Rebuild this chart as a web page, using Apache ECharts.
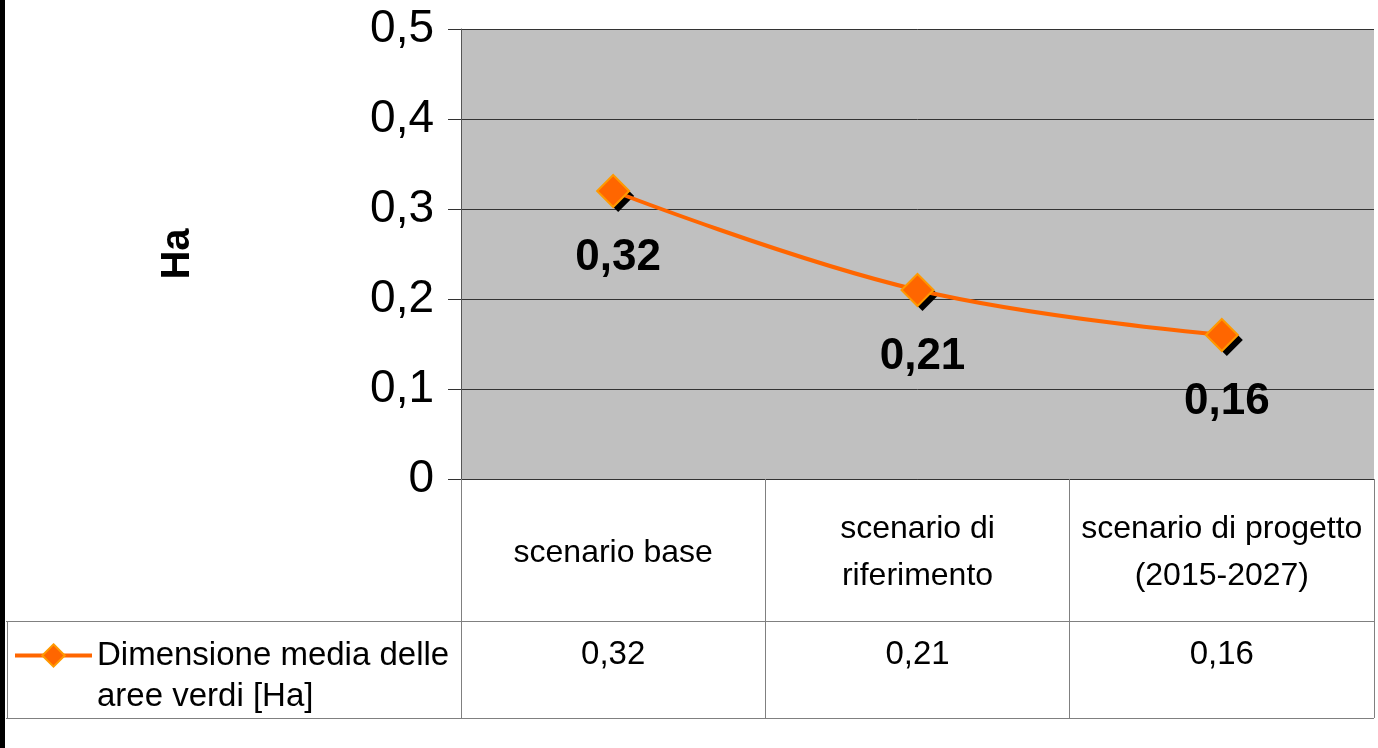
<!DOCTYPE html>
<html>
<head>
<meta charset="utf-8">
<script src="https://cdn.jsdelivr.net/npm/echarts@6/dist/echarts.min.js"></script>
<style>
html,body{margin:0;padding:0;background:#fff;}
#c{width:1378px;height:748px;}
</style>
</head>
<body>
<div id="c"></div>
<script>
const categories = ['scenario base', 'scenario di\nriferimento', 'scenario di progetto\n(2015-2027)'];
const values = [0.32, 0.21, 0.16];
const seriesName = 'Dimensione media delle aree verdi [Ha]';
const yTicks = [0, 0.1, 0.2, 0.3, 0.4, 0.5];

const fmt = v => String(v).replace('.', ',');
const FONT = '"Liberation Sans", Arial, sans-serif';

const chart = echarts.init(document.getElementById('c'), null, {renderer: 'canvas'});
chart.setOption({
  animation: false,
  backgroundColor: '#ffffff',
  grid: {left: 461, right: 4, top: 29, bottom: 269, show: true, backgroundColor: '#c0c0c0', borderWidth: 0},
  legend: {
    left: 13, top: 594, padding: 0,
    itemWidth: 77, itemHeight: 28,
    data: [seriesName],
    formatter: n => '\nDimensione media delle\naree verdi [Ha]',
    textStyle: {fontFamily: FONT, fontSize: 33, lineHeight: 41, color: '#000'},
    lineStyle: {width: 4},
    itemStyle: {borderWidth: 2}
  },
  xAxis: [{
    type: 'category', data: categories, boundaryGap: true,
    axisLine: {show: true, lineStyle: {color: '#333', width: 1}},
    axisTick: {show: true, interval: 0, length: 239, lineStyle: {color: '#808080', width: 1}},
    axisLabel: {interval: 0, margin: 74, verticalAlign: 'middle', fontFamily: FONT, fontSize: 32, lineHeight: 47, color: '#000'},
    splitLine: {show: false}
  }, {
    type: 'category', data: values.map(fmt), position: 'bottom', offset: 0, boundaryGap: true,
    axisLine: {show: false}, axisTick: {show: false},
    axisLabel: {interval: 0, margin: 176, verticalAlign: 'middle', fontFamily: FONT, fontSize: 33, color: '#000'}
  }],
  yAxis: {
    type: 'value', min: 0, max: 0.5, interval: 0.1,
    name: 'Ha', nameLocation: 'middle', nameRotate: 90, nameGap: 263,
    nameTextStyle: {fontFamily: FONT, fontSize: 40, fontWeight: 'bold', color: '#000'},
    axisLine: {show: true, lineStyle: {color: '#555', width: 1}},
    axisTick: {show: true, length: 13, lineStyle: {color: '#333'}},
    axisLabel: {margin: 27, fontFamily: FONT, fontSize: 46, color: '#000', formatter: v => fmt(v)},
    splitLine: {show: true, lineStyle: {color: '#333', width: 1}}
  },
  series: [{
    name: 'shadow', type: 'line', data: values, z: 1,
    symbol: 'diamond', symbolSize: 32, symbolOffset: [5, 5],
    lineStyle: {width: 0, opacity: 0},
    itemStyle: {color: '#000'},
    label: {show: false}, silent: true
  }, {
    name: seriesName, type: 'line', data: values, smooth: 0.4, z: 3,
    symbol: 'diamond', symbolSize: 32,
    lineStyle: {color: '#ff6600', width: 4},
    itemStyle: {color: '#ff6600', borderColor: '#ff9900', borderWidth: 2},
    label: {show: true, position: 'bottom', distance: 28, offset: [5, 0],
      formatter: p => fmt(p.value), fontFamily: FONT, fontSize: 44, fontWeight: 'bold', color: '#000'}
  }],
  graphic: [
    {type: 'rect', shape: {x: 0, y: 0, width: 5, height: 748}, style: {fill: '#000'}},
    {type: 'line', shape: {x1: 6, y1: 621.5, x2: 1374, y2: 621.5}, style: {stroke: '#808080', lineWidth: 1}},
    {type: 'line', shape: {x1: 6, y1: 718.5, x2: 1374, y2: 718.5}, style: {stroke: '#808080', lineWidth: 1}},
    {type: 'line', shape: {x1: 7.5, y1: 621, x2: 7.5, y2: 719}, style: {stroke: '#808080', lineWidth: 1}}
  ]
});
</script>
</body>
</html>
